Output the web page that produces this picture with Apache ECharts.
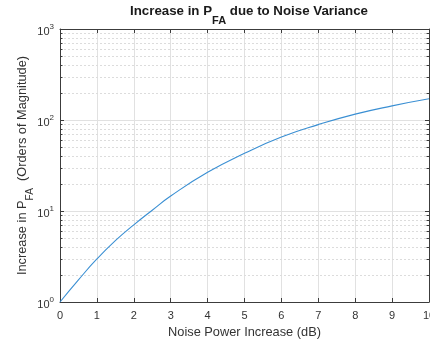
<!DOCTYPE html>
<html>
<head>
<meta charset="utf-8">
<script src="https://cdn.jsdelivr.net/npm/echarts@6/dist/echarts.min.js"></script>
<style>
html,body{margin:0;padding:0;background:#fff;}
#chart{width:430px;height:340px;}
</style>
</head>
<body>
<div id="chart"></div>
<script>
// Data
var noiseDb = [0, 0.5, 1, 1.5, 2, 2.5, 3, 4, 5, 6, 7, 8, 9, 10];
var pfaIncrease = [1, 1.75, 2.97, 4.72, 7.05, 10.2, 14.6, 26.6, 43, 65, 89, 116, 143, 171];
var xTicks = [0, 1, 2, 3, 4, 5, 6, 7, 8, 9, 10];
var yDecades = [1, 10, 100, 1000];
var yMinor = [2,3,4,5,6,7,8,9,20,30,40,50,60,70,80,90,200,300,400,500,600,700,800,900];

var FONT = 'Liberation Sans, Arial, Helvetica, sans-serif';
var TXT = '#333333';
var AX = '#3c3c3c';

var lineData = noiseDb.map(function (x, i) { return [x, pfaIncrease[i]]; });
var minorData = yMinor.map(function (v) { return [0, v]; });

var chart = echarts.init(document.getElementById('chart'), null, {renderer: 'canvas'});

var option = {
  animation: false,
  backgroundColor: '#ffffff',
  title: {
    text: '{a|Increase in P}{s|FA}{a| due to Noise Variance}',
    left: 130,
    top: 8,
    padding: 0,
    textStyle: {
      fontFamily: FONT, fontSize: 13.3, fontWeight: 'bold', color: '#1a1a1a',
      rich: {
        a: {fontFamily: FONT, fontSize: 13.3, fontWeight: 'bold', color: '#1a1a1a', lineHeight: 15, padding: [0, 0, 9, 0]},
        s: {fontFamily: FONT, fontSize: 11, fontWeight: 'bold', color: '#1a1a1a', lineHeight: 13, padding: [11, 0, 0, 0]}
      }
    }
  },
  grid: {left: 60, right: 1, top: 29, bottom: 38, containLabel: false, outerBoundsMode: 'none'},
  xAxis: [{
    type: 'value', min: 0, max: 10, interval: 1, position: 'bottom',
    name: 'Noise Power Increase (dB)', nameLocation: 'middle', nameGap: 24,
    nameMoveOverlap: false,
    nameTextStyle: {fontFamily: FONT, fontSize: 12.8, color: TXT},
    axisLine: {show: true, onZero: false, lineStyle: {color: AX, width: 1}},
    axisTick: {show: true, inside: true, length: 4, lineStyle: {color: AX}},
    axisLabel: {fontFamily: FONT, fontSize: 11, color: TXT, margin: 8,
      alignMinLabel: 'center', alignMaxLabel: 'center',
      formatter: function (v) { return xTicks.indexOf(v) >= 0 ? String(v) : ''; }},
    splitLine: {show: true, lineStyle: {color: '#e1e1e1', width: 1}}
  }, {
    type: 'value', min: 0, max: 10, interval: 1, position: 'top',
    axisLine: {show: true, onZero: false, lineStyle: {color: AX, width: 1}},
    axisTick: {show: true, inside: true, length: 4, lineStyle: {color: AX}},
    axisLabel: {show: false},
    splitLine: {show: false}
  }],
  yAxis: [{
    type: 'log', logBase: 10, min: 1, max: 1000, position: 'left',
    name: '{a|Increase in P}{s|FA}{a|  (Orders of Magnitude)}',
    nameLocation: 'middle', nameGap: 27, nameRotate: 90,
    nameMoveOverlap: false,
    nameTextStyle: {
      fontFamily: FONT, fontSize: 12.8, color: TXT,
      rich: {
        a: {fontFamily: FONT, fontSize: 12.8, color: TXT, lineHeight: 15, padding: [0, 0, 7, 0]},
        s: {fontFamily: FONT, fontSize: 10, color: TXT, lineHeight: 12, padding: [10, 0, 0, 0]}
      }
    },
    axisLine: {show: true, onZero: false, lineStyle: {color: AX, width: 1}},
    axisTick: {show: true, inside: true, length: 4, lineStyle: {color: AX}},
    axisLabel: {
      margin: 6,
      formatter: function (v) {
        var e = Math.round(Math.log10(v));
        return '{b|10}{s|' + e + '}';
      },
      rich: {
        b: {fontFamily: FONT, fontSize: 11, color: TXT, lineHeight: 13, padding: [5, 0, 0, 0]},
        s: {fontFamily: FONT, fontSize: 8, color: TXT, lineHeight: 9, padding: [2, 0, 7, 0]}
      }
    },
    splitLine: {show: true, lineStyle: {color: '#e1e1e1', width: 1}}
  }, {
    type: 'log', logBase: 10, min: 1, max: 1000, position: 'right',
    axisLine: {show: true, onZero: false, lineStyle: {color: AX, width: 1}},
    axisTick: {show: true, inside: true, length: 4, lineStyle: {color: AX}},
    axisLabel: {show: false},
    splitLine: {show: false}
  }],
  series: [{
    type: 'custom',
    xAxisIndex: 0, yAxisIndex: 0,
    z: 1,
    silent: true,
    clip: true,
    data: minorData,
    renderItem: function (params, api) {
      var v = api.value(1);
      var p0 = api.coord([0, v]);
      var p1 = api.coord([10, v]);
      var y = Math.round(p0[1]) + 0.5;
      return {
        type: 'group',
        children: [{
          type: 'line',
          shape: {x1: p0[0], y1: y, x2: p1[0], y2: y},
          style: {stroke: '#dcdcdc', lineWidth: 1, lineDash: [2, 2]}
        }, {
          type: 'line',
          shape: {x1: p0[0], y1: y, x2: p0[0] + 2.5, y2: y},
          style: {stroke: AX, lineWidth: 1}
        }, {
          type: 'line',
          shape: {x1: p1[0] - 2.5, y1: y, x2: p1[0], y2: y},
          style: {stroke: AX, lineWidth: 1}
        }]
      };
    }
  }, {
    type: 'line',
    xAxisIndex: 0, yAxisIndex: 0,
    z: 5,
    data: lineData,
    smooth: 0.5,
    showSymbol: false,
    symbol: 'none',
    lineStyle: {color: '#3a8fd3', width: 1.1}
  }]
};
chart.setOption(option);
</script>
</body>
</html>
